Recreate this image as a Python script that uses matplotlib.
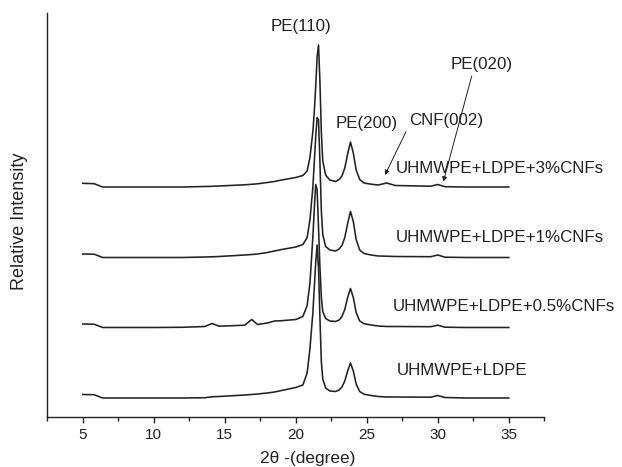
import matplotlib
matplotlib.use("Agg")
import matplotlib.pyplot as plt
import numpy as np

plt.rcParams['font.family'] = ['Liberation Sans', 'DejaVu Sans']

# 2-theta sample positions (degrees)
two_theta = [5.0, 5.8, 6.4, 8.0, 10.0, 12.0, 13.6, 14.1, 14.6, 16.4, 16.9, 17.3,
             18.0, 18.5, 19.0, 20.0, 20.5, 20.8, 21.0, 21.2, 21.3, 21.4, 21.5,
             21.6, 21.7, 21.8, 21.9, 22.1, 22.4, 22.8, 23.05, 23.25, 23.45, 23.65,
             23.85, 24.05, 24.25, 24.5, 24.8, 25.3, 25.8, 26.4, 27.0, 29.5, 30.0,
             30.5, 32.0, 35.0]

# relative intensities (arb. units, each above its own baseline)
int_blend = [3.5, 3.3, 0, 0, 0, 0, 0.3, 1.2, 1.5, 3.0, 3.5, 4.0,
             5.0, 6.0, 7.5, 10.5, 13, 25, 50, 85, 110, 135, 153,
             130, 80, 36, 19, 10, 7, 6.5, 8, 11, 17, 27,
             35, 27, 14, 6.5, 3.8, 2.5, 1.5, 1.0, 1.0, 0.8, 2.5,
             0.5, 0, 0]
int_05 = [3.5, 3.3, 0, 0, 0, 0.2, 1.0, 4.0, 1.3, 2.3, 8.0, 3.0,
          4.5, 6.5, 6.8, 8.0, 11, 22, 45, 90, 118, 143, 138,
          100, 60, 30, 16, 9, 6.5, 6, 7.5, 11, 18, 30,
          39, 30, 15, 6.5, 3.8, 2.5, 1.5, 1.0, 1.0, 0.8, 2.3,
          0.3, 0, 0]
int_1 = [3.5, 3.3, 0, 0, 0, 0, 0.5, 0.7, 1.0, 2.5, 3.0, 3.5,
         5.0, 6.5, 8.0, 10.5, 13, 20, 38, 70, 95, 120, 140,
         138, 95, 46, 23, 11, 7.5, 6.5, 8.5, 12, 20, 34,
         46, 36, 18, 7.5, 4.0, 2.5, 1.5, 1.3, 1.0, 0.8, 2.5,
         0.3, 0, 0]
int_3 = [3.7, 3.3, 0, 0, 0, 0, 0.5, 0.7, 1.0, 2.2, 2.7, 3.2,
         4.5, 5.5, 7.0, 9.5, 11.5, 16, 30, 55, 75, 100, 130,
         142, 105, 54, 26, 12, 7, 5.5, 7.5, 11, 19, 33,
         45, 34, 17, 7.5, 4.0, 2.8, 2.0, 4.0, 1.5, 0.8, 2.5,
         0.3, 0, 0]

series_labels = ["UHMWPE+LDPE", "UHMWPE+LDPE+0.5%CNFs",
                 "UHMWPE+LDPE+1%CNFs", "UHMWPE+LDPE+3%CNFs"]
series_offsets = [19.3, 89.8, 159.8, 230.3]
series_data = [int_blend, int_05, int_1, int_3]

peak_labels = ["PE(110)", "PE(200)", "CNF(002)", "PE(020)"]

x_ticks = [5, 10, 15, 20, 25, 30, 35]

fig = plt.figure(figsize=(6.22, 4.67), dpi=100)
ax = fig.add_axes([47.3/622, 1-417.3/467, 497/622, 404/467])

col = '#222222'
x = np.array(two_theta)
for ys, off in zip(series_data, series_offsets):
    ax.plot(x, np.array(ys) + off, color=col, lw=1.15, solid_joinstyle='round')

ax.set_xlim(2.5, 37.5)
ax.set_ylim(0, 404)

for s in ['top', 'right']:
    ax.spines[s].set_visible(False)
for s in ['left', 'bottom']:
    ax.spines[s].set_color(col)
    ax.spines[s].set_linewidth(1.0)

ax.set_xticks(x_ticks)
ax.set_xticklabels([str(t) for t in x_ticks])
ax.set_xticks(np.arange(2.5, 38, 5), minor=True)
ax.set_yticks([])
ax.tick_params(axis='x', which='major', direction='out', length=4, width=1.0,
               color=col, labelsize=11, pad=4, labelcolor=col)
ax.tick_params(axis='x', which='minor', direction='out', length=3.2, width=1.0,
               color=col)

ax.set_xlabel("2θ -(degree)", fontsize=12.5, color=col)
ax.xaxis.set_label_coords((307.5-47.3)/497, (417.3-458)/404)
ax.xaxis.label.set_va('center')
ax.set_ylabel("Relative Intensity", fontsize=13, color=col)
ax.yaxis.set_label_coords((19-47.3)/497, (417.3-221.7)/404)
ax.yaxis.label.set_va('center')

# series labels
lab_pos = [(27.13, 46.6), (26.8, 110.6), (27.01, 179.3), (27.01, 249.0)]
for lab, (lx, ly) in zip(series_labels, lab_pos):
    ax.text(lx, ly, lab, fontsize=12.2, color=col, ha='left', va='center',
            clip_on=False)

# peak labels
pk_pos = [(20.37, 390.3), (24.99, 294.0), (30.58, 297.3), (33.11, 352.3)]
for lab, (px, py) in zip(peak_labels, pk_pos):
    ax.text(px, py, lab, fontsize=12.2, color=col, ha='center', va='center')

ap = dict(arrowstyle='-|>', lw=0.7, color=col, mutation_scale=7,
          shrinkA=0, shrinkB=0)
ax.annotate('', xy=(26.28, 242.3), xytext=(27.76, 285.6), arrowprops=ap)
ax.annotate('', xy=(30.39, 235.6), xytext=(32.39, 341.3), arrowprops=ap)

fig.savefig("out.png", dpi=100)
